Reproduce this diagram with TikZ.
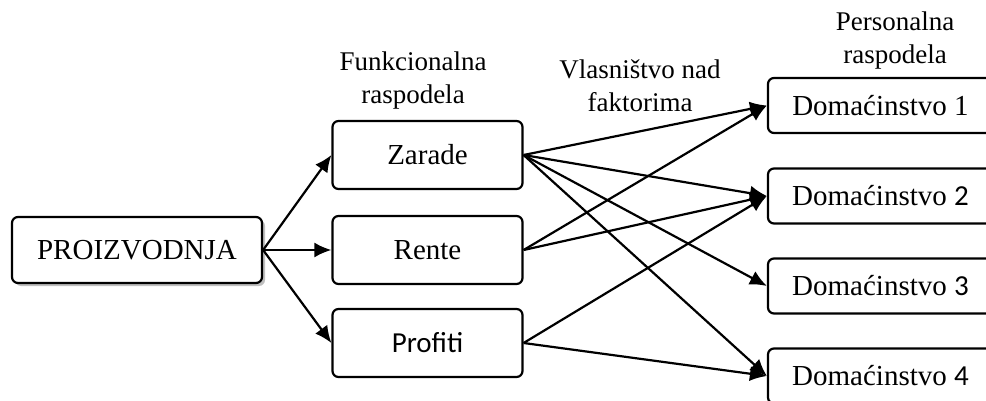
\documentclass[tikz,border=0pt]{standalone}
\usepackage{fontspec}
\setmainfont{Liberation Serif}
\newfontfamily\calfont{Carlito}
\usetikzlibrary{arrows.meta,shadows}

\tikzset{
		box/.style={draw, line width=1.1pt, rounded corners=3pt, fill=white, font=\fontsize{14.5}{16}\selectfont},
		sector/.style={box, minimum width=95pt, minimum height=34pt},
		house/.style={box, minimum width=112.5pt, minimum height=27.5pt},
		label/.style={align=center, font=\fontsize{13.5}{16.5}\selectfont},
		arrow/.style={-{Latex[length=8.5pt,width=7.5pt]}, line width=1.1pt}
	}

\begin{document}
\begin{tikzpicture}[x=0.5pt, y=-0.5pt]
	
	\path[use as bounding box] (0,0) rectangle (986,401);
	
	\node (prod) at (137,250) [box, minimum width=125pt, minimum height=33pt, drop shadow={shadow xshift=1.5pt, shadow yshift=-1.5pt, fill=gray}] {PROIZVODNJA};
	
	\node (zarade) at (427.5,155) [sector] {Zarade};
	\node (rente) at (427.5,250) [sector] {Rente};
	\node (profiti) at (427.5,343) [sector] {\calfont Profiti};
	
	\node (dom1) at (880.5,105.5) [house] {Domaćinstvo 1};
	\node (dom2) at (880.5,196) [house] {Domaćinstvo {\calfont 2}};
	\node (dom3) at (880.5,286) [house] {Domaćinstvo {\calfont 3}};
	\node (dom4) at (880.5,376) [house] {Domaćinstvo {\calfont 4}};
	
	\node (funk) at (413,81) [label] {Funkcionalna\\raspodela};
	\node (vlas) at (640,86) [label] {Vlasništvo nad\\faktorima};
	\node (pers) at (895,41) [label] {Personalna\\raspodela};
	
	\draw [arrow] (prod.east) to (zarade.west);
	\draw [arrow] (prod.east) to (rente.west);
	\draw [arrow] (prod.east) to (profiti.west);
	
	\draw [arrow] (zarade.east) to (dom1.west);
	\draw [arrow] (zarade.east) to (dom2.west);
	\draw [arrow] (zarade.east) to (dom3.west);
	\draw [arrow] (zarade.east) to (dom4.west);
	\draw [arrow] (rente.east) to (dom1.west);
	\draw [arrow] (rente.east) to (dom2.west);
	\draw [arrow] (profiti.east) to (dom2.west);
	\draw [arrow] (profiti.east) to (dom4.west);
	
\end{tikzpicture}
\end{document}
